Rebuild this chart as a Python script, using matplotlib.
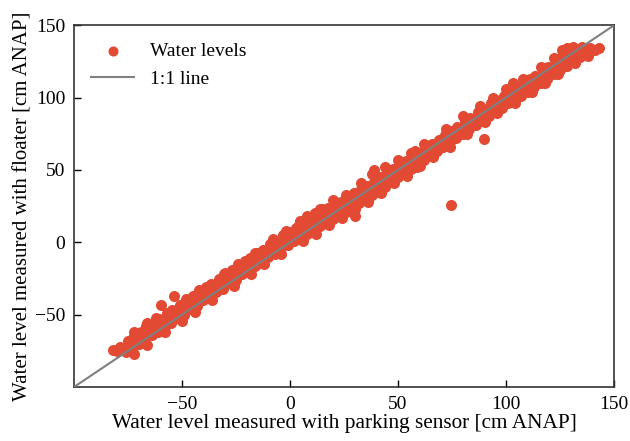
import matplotlib
matplotlib.use("Agg")
import matplotlib.pyplot as plt

plt.rcParams["font.family"] = ["Liberation Serif", "DejaVu Serif"]
plt.rcParams["mathtext.fontset"] = "stix"

# ── Data (cm ANAP): parking sensor (x) vs floater (y) ───────────────────────
x_mid = [-80, -77, -74, -71, -68, -65, -62, -59, -56, -53, -50, -47, -44, -41, -38,
         -35, -32, -29, -26, -23, -20, -17, -14, -11, -8, -5, -2, 1, 4, 7, 10, 13,
         16, 19, 22, 25, 28, 31, 34, 37, 40, 43, 46, 49, 52, 55, 58, 61, 64, 67, 70,
         73, 76, 79, 82, 85, 88, 91, 94, 97, 100, 103, 106, 109, 112, 115, 118, 121,
         124, 127, 130, 133, 136, 139]
y_mid = [-75, -73, -70, -67, -63, -61, -57, -55, -51, -49, -46, -43, -39, -37, -34,
         -31, -27, -25, -22, -19, -16, -13, -10, -7, -4, -1, 2, 5, 8, 11, 14, 16,
         19, 22, 24, 27, 30, 33, 35, 38, 41, 43, 46, 49, 51, 54, 57, 60, 63, 66, 69,
         72, 75, 78, 81, 84, 87, 90, 93, 96, 99, 101, 104, 107, 110, 113, 116, 118,
         121, 124, 127, 130, 133, 134]

x_up = [-78.5, -75, -72.5, -69, -66.5, -63, -60.5, -57, -54.5, -51, -48.5, -45, -42.5,
        -39, -36.5, -33, -30.5, -27, -24.5, -21, -18.5, -15, -12.5, -9, -6.5, -3, -0.5,
        3, 5.5, 9, 11.5, 15, 17.5, 21, 23.5, 27, 29.5, 33, 35.5, 39, 41.5, 45, 47.5, 51,
        53.5, 57, 59.5, 63, 65.5, 69, 71.5, 75, 77.5, 81, 83.5, 87, 89.5, 93, 95.5, 99,
        101.5, 105, 107.5, 111, 113.5, 117, 119.5, 123, 125.5, 129, 131.5]
y_up = [-72, -68, -66, -62, -58, -56, -53, -49, -47, -43, -41, -37, -35,
        -31, -29, -25, -22, -19, -17, -13, -11, -7, -5, -1, 1, 5, 7,
        10, 13, 17, 20, 23, 24, 27, 28, 32, 34, 37, 39, 42, 45, 48, 51, 54,
        56, 60, 62, 65, 68, 71, 74, 77, 80, 84, 86, 90, 92, 96, 98, 101,
        103, 107, 109, 113, 115, 118, 121, 124, 127, 131, 134]

x_low = [-76, -73, -70, -67, -64, -61, -58, -55, -52, -49, -46, -43, -40, -37, -34,
         -31, -28, -25, -22, -19, -16, -13, -10, -7, -4, -1, 2, 5, 8, 11, 14, 17, 20,
         23, 26, 29, 32, 35, 38, 41, 44, 47, 50, 53, 56, 59, 62, 65, 68, 71, 74, 77,
         80, 83, 86, 89, 92, 95, 98, 101, 104, 107, 110, 113, 116, 119, 122, 125, 128,
         131, 134, 137, 141]
y_low = [-76, -74, -70, -68, -64, -62, -58, -56, -52, -50, -46, -44, -40, -38, -34,
         -32, -28, -26, -22, -20, -16, -14, -10, -8, -4, -2, 1, 3, 6, 9, 11, 14, 16,
         19, 21, 24, 27, 30, 33, 35, 38, 42, 45, 48, 51, 54, 57, 60, 63, 66, 69, 72,
         75, 78, 81, 84, 87, 90, 93, 96, 98, 101, 104, 107, 110, 113, 116, 119, 122,
         125, 128, 131, 133]

# outer edges of the band
x_up2 = [-72, -66, -62, -48, -42, -30, -24, -16, -8, -2, 4, 8, 14, 20, 26, 33, 38,
         44, 50, 56, 62, 72, 80, 88, 94, 100, 108, 116, 122, 126]
y_up2 = [-62, -56, -52, -39, -33, -21, -15, -7, 2, 8, 12, 18, 23, 29, 33, 41, 47,
         52, 57, 62, 68, 78, 87, 94, 100, 106, 113, 121, 127, 133]

x_low2 = [-72, -66, -58, -50, -44, -36, -26, -18, -12, -4, 6, 12, 18, 24, 30, 36,
          42, 48, 54, 60, 66, 74, 82, 90, 96, 104, 112, 118, 124, 132, 138]
y_low2 = [-77, -71, -62, -54, -48, -40, -30, -22, -15, -8, 1, 6, 12, 17, 23, 28,
          34, 41, 46, 53, 59, 66, 75, 83, 89, 96, 104, 110, 116, 124, 129]

# scattered points away from the band
x_extra = [-82, -53.7, -59.7, 4.6, 30, 39, 58, 59, 74.5, 89.8, 103, 128, 131, 135, 143]
y_extra = [-74.5, -37, -43, 15, 18, 50, 63, 52, 26, 71.7, 110, 134, 135, 135, 134.5]

RED = "#E24A33"
LIM = (-100, 150)


fig = plt.figure(figsize=(6.3, 4.41), dpi=100)
ax = fig.add_axes([0.117, 0.122, 0.858, 0.821])

xs = x_mid + x_up + x_low + x_up2 + x_low2 + x_extra
ys = y_mid + y_up + y_low + y_up2 + y_low2 + y_extra
ax.scatter(xs, ys, s=48, color=RED, edgecolors=RED, linewidths=1.0, zorder=2,
           label="Water levels")
ax.plot(LIM, LIM, color="#808080", linewidth=1.5, zorder=3, label="1:1 line")

ax.set_xlim(*LIM)
ax.set_ylim(*LIM)
ax.set_xticks([-50, 0, 50, 100, 150])
ax.set_yticks([-50, 0, 50, 100, 150])
ax.tick_params(direction="in", length=5, width=1, labelsize=14, pad=6)
for sp in ax.spines.values():
    sp.set_color("#333333")
    sp.set_linewidth(1.2)

ax.set_xlabel("Water level measured with parking sensor [cm ANAP]", fontsize=15.3, labelpad=1)
ax.set_ylabel("Water level measured with floater [cm ANAP]", fontsize=15, labelpad=2)

ax.legend(loc="upper left", frameon=False, fontsize=14, handlelength=2.2,
          borderaxespad=0.5, markerscale=0.9)

fig.savefig("out.png", dpi=100)
